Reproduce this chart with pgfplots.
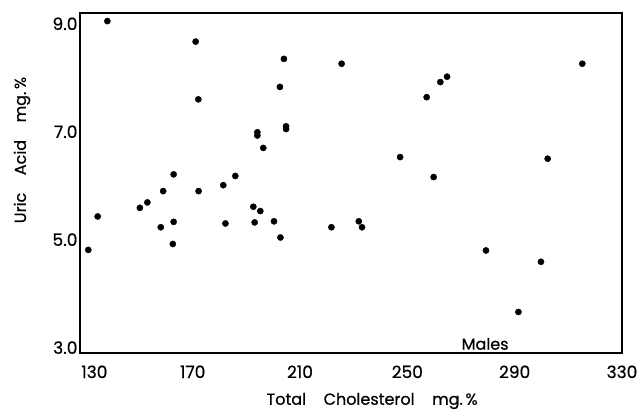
\documentclass[border=0pt]{standalone}
\usepackage{pgfplots}
\pgfplotsset{compat=1.18}
\usepackage{fontspec}
\setmainfont{Poppins}
\newfontfamily\figfont{Poppins}[FakeBold=0.6]
\begin{document}
\begin{tikzpicture}
\begin{axis}[
  name=ax,
  width=542pt, height=340pt, scale only axis,
  xmin=128, xmax=330, ymin=2.9, ymax=9.2,
  xtick={130,170,210,250,290,330},
  xticklabels={\hspace{18pt}130,170,210,250,290,330},
  ytick={3,5,7,9},
  yticklabels={3.0,5.0,7.0,9.0},
  major tick length=0pt,
  axis line style={line width=1.4pt},
  tick label style={font=\figfont\fontsize{17}{19}\selectfont},
  xticklabel style={yshift=-9pt},
  yticklabel style={xshift=1pt},
  xlabel={Total\hspace{1.1em}Cholesterol\hspace{1.1em}mg.\,\%},
  ylabel={Uric\hspace{1.1em}Acid\hspace{1.1em}mg.\,\%},
  label style={font=\figfont\fontsize{16}{18}\selectfont},
  xlabel style={at={(axis description cs:0.539,0)}, anchor=center, yshift=-48pt},
  ylabel style={at={(axis description cs:0,0.597)}, anchor=center, yshift=58pt},
  clip=false,
]
\addplot[only marks, mark=*, mark size=3.1pt, black] coordinates {
(138.2,9.05) (171.1,8.67) (204.0,8.35) (202.5,7.83) (172.1,7.60)
(194.1,6.93) (194.1,6.99) (204.8,7.05) (204.8,7.10) (196.3,6.70)
(162.9,6.21) (185.9,6.18) (181.4,6.01) (159.0,5.90) (172.2,5.90)
(153.1,5.69) (150.3,5.59) (192.6,5.61) (195.2,5.53) (134.6,5.43)
(162.9,5.33) (158.1,5.23) (182.2,5.30) (193.1,5.32) (200.3,5.34)
(202.7,5.04) (162.6,4.92) (131.1,4.81) (221.7,5.23) (231.9,5.34)
(233.1,5.23) (225.5,8.26) (315.2,8.26) (264.8,8.02) (262.3,7.92)
(257.2,7.64) (247.3,6.53) (302.3,6.50) (259.8,6.16) (279.3,4.80)
(299.8,4.59) (291.4,3.66)
};
\node[font=\figfont\fontsize{16}{18}\selectfont] at (axis cs:279,3.07) {Males};
\end{axis}
\pgfresetboundingbox
\path[use as bounding box] ([shift={(-80pt,-60pt)}]ax.south west) rectangle ([shift={(20pt,13pt)}]ax.north east);
\end{tikzpicture}
\end{document}
